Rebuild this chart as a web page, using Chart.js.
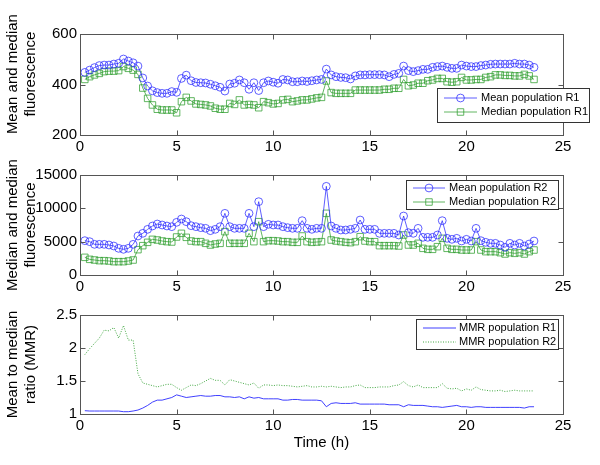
<!DOCTYPE html>
<html>
<head>
<meta charset="utf-8">
<script src="https://cdn.jsdelivr.net/npm/chart.js@4.4.1/dist/chart.umd.min.js"></script>
<style>
  body { margin: 0; background: #fff; }
  #wrap { position: relative; width: 600px; height: 465px; }
  canvas { position: absolute; left: 0; }
</style>
</head>
<body>
<div id="wrap">
  <canvas id="c1" width="600" height="155" style="top:0"></canvas>
  <canvas id="c2" width="600" height="140" style="top:155px"></canvas>
  <canvas id="c3" width="600" height="170" style="top:295px"></canvas>
</div>
<script>
// sampling times (h)
const hours = [
  0.25,0.5,0.75,1,1.25,1.5,1.75,2,2.25,2.5,2.75,3,
  3.25,3.5,3.75,4,4.25,4.5,4.75,5,5.25,5.5,5.75,6,
  6.25,6.5,6.75,7,7.25,7.5,7.75,8,8.25,8.5,8.75,9,
  9.25,9.5,9.75,10,10.25,10.5,10.75,11,11.25,11.5,11.75,12,
  12.25,12.5,12.75,13,13.25,13.5,13.75,14,14.25,14.5,14.75,15,
  15.25,15.5,15.75,16,16.25,16.5,16.75,17,17.25,17.5,17.75,18,
  18.25,18.5,18.75,19,19.25,19.5,19.75,20,20.25,20.5,20.75,21,
  21.25,21.5,21.75,22,22.25,22.5,22.75,23,23.25,23.5
];

const meanR1 = [
  448,457,467,475,477,477,481,484,501,493,486,473,
  426,394,375,368,365,365,372,369,424,437,415,408,
  407,406,401,395,389,374,402,405,418,407,381,407,
  376,407,414,409,405,420,418,411,411,414,412,415,
  418,420,461,438,431,428,427,422,434,438,438,439,
  439,439,438,431,440,444,473,455,451,455,460,460,
  468,471,473,468,464,464,477,473,471,471,475,477,
  480,481,481,481,481,484,481,481,477,468
];
const medianR1 = [
  420,431,438,444,451,453,453,455,471,464,457,440,
  386,345,319,302,299,299,299,288,332,349,335,323,
  321,319,315,306,302,302,325,321,339,319,321,319,
  308,332,328,323,325,339,341,332,335,339,339,343,
  347,349,414,368,365,365,365,365,378,378,378,378,
  378,378,381,381,385,385,420,395,398,405,405,415,
  418,424,424,411,409,411,428,418,418,420,420,428,
  431,438,438,436,436,434,434,440,434,420
];
const meanR2 = [
  5150,5000,4600,4600,4600,4500,4350,4000,3850,4000,4600,5850,
  6250,6850,7350,7650,7500,7350,7250,7900,8400,8000,7400,7250,
  7100,7000,6650,6850,7250,9250,7250,7000,7000,7000,9250,7250,
  11000,7250,7600,7500,7500,7250,7100,7000,7000,8150,7000,6850,
  7000,7000,13300,7350,7000,6750,6750,6850,7000,8250,6850,6850,
  6850,6250,6250,6250,6250,6000,8850,6350,6250,7000,5650,5650,
  5650,6000,8150,5500,5350,5500,5100,5350,5100,7000,5150,4900,
  4750,4750,4500,4150,4750,4500,4750,4350,4650,5100
];
const medianR2 = [
  2650,2350,2250,2150,2150,2100,2000,2000,2000,2100,2250,3800,
  4400,4900,5350,5250,5100,5000,4950,5700,6250,5650,5100,5000,
  5000,4750,4500,4650,4750,6500,4750,4750,4750,4750,6250,5000,
  8000,5000,5150,5150,5100,5000,5000,4900,4900,5850,5000,4900,
  4950,5000,9250,5250,5100,5000,4900,4850,5000,5750,5100,5000,
  5000,4400,4400,4400,4400,4350,6000,4500,4500,4750,4000,3850,
  3850,4250,5500,4000,3850,3850,3750,3750,3750,5000,3750,3500,
  3500,3500,3350,3150,3350,3250,3350,3150,3500,3750
];
const mmrR1 = [
  1.05,1.045,1.045,1.045,1.045,1.045,1.045,1.045,1.035,1.035,1.045,1.06,
  1.09,1.13,1.18,1.21,1.21,1.23,1.25,1.29,1.27,1.25,1.26,1.27,
  1.28,1.27,1.27,1.28,1.28,1.26,1.26,1.25,1.26,1.23,1.26,1.24,
  1.25,1.23,1.23,1.23,1.23,1.21,1.21,1.22,1.22,1.21,1.21,1.21,
  1.21,1.20,1.11,1.16,1.17,1.16,1.16,1.16,1.17,1.15,1.15,1.15,
  1.15,1.15,1.15,1.14,1.14,1.14,1.11,1.14,1.13,1.13,1.13,1.12,
  1.11,1.11,1.10,1.11,1.12,1.13,1.11,1.11,1.10,1.11,1.11,1.10,
  1.10,1.10,1.10,1.10,1.10,1.10,1.10,1.09,1.11,1.11
];
const mmrR2 = [
  1.90,1.99,2.07,2.15,2.27,2.26,2.31,2.15,2.34,2.12,2.12,1.61,
  1.47,1.45,1.43,1.41,1.43,1.45,1.45,1.40,1.36,1.40,1.44,1.43,
  1.46,1.50,1.54,1.51,1.51,1.44,1.52,1.50,1.48,1.46,1.44,1.47,
  1.39,1.44,1.44,1.43,1.44,1.43,1.43,1.42,1.41,1.42,1.43,1.41,
  1.41,1.42,1.41,1.42,1.41,1.40,1.41,1.41,1.43,1.44,1.40,1.40,
  1.40,1.41,1.41,1.41,1.43,1.44,1.49,1.43,1.41,1.44,1.40,1.40,
  1.40,1.40,1.46,1.39,1.38,1.39,1.35,1.38,1.36,1.41,1.37,1.36,
  1.35,1.35,1.36,1.34,1.35,1.36,1.35,1.35,1.35,1.35
];

const xTicks = [0, 5, 10, 15, 20, 25];
const yTicksTop = [200, 400, 600];
const yTicksMid = [0, 5000, 10000, 15000];
const yTicksBot = [1, 1.5, 2, 2.5];

const BLUE = '#2a2aff';
const GREEN = '#2e9e2e';
const AXIS = '#555';

Chart.defaults.font.family = '"Liberation Sans", Arial, sans-serif';
Chart.defaults.font.size = 15;
Chart.defaults.color = '#000';

const pts = vals => hours.map((h, i) => ({ x: h, y: vals[i] }));

// matlab-like box with inward ticks
const frame = {
  id: 'frame',
  afterDatasetsDraw(chart) {
    const { ctx, chartArea: a, scales } = chart;
    ctx.save();
    ctx.strokeStyle = AXIS;
    ctx.lineWidth = 1;
    const l = Math.round(a.left) + 0.5, t = Math.round(a.top) + 0.5;
    const r = Math.round(a.right) + 0.5, b = Math.round(a.bottom) + 0.5;
    ctx.strokeRect(l, t, r - l, b - t);
    ctx.beginPath();
    scales.x.ticks.forEach(tk => {
      const px = Math.round(scales.x.getPixelForValue(tk.value)) + 0.5;
      ctx.moveTo(px, b); ctx.lineTo(px, b - 5);
      ctx.moveTo(px, t); ctx.lineTo(px, t + 5);
    });
    scales.y.ticks.forEach(tk => {
      const py = Math.round(scales.y.getPixelForValue(tk.value)) + 0.5;
      ctx.moveTo(l, py); ctx.lineTo(l + 5, py);
      ctx.moveTo(r, py); ctx.lineTo(r - 5, py);
    });
    ctx.stroke();
    ctx.restore();
  }
};

// boxed legend drawn where matlab put it
const boxLegend = {
  id: 'boxLegend',
  afterDraw(chart, args, o) {
    const ctx = chart.ctx;
    ctx.save();
    ctx.fillStyle = '#fff';
    ctx.fillRect(o.x, o.y, o.w, o.h);
    ctx.strokeStyle = '#333';
    ctx.lineWidth = 1;
    ctx.strokeRect(o.x + 0.5, o.y + 0.5, o.w, o.h);
    ctx.font = o.size + 'px "Liberation Sans", Arial, sans-serif';
    ctx.textBaseline = 'middle';
    chart.data.datasets.forEach((ds, i) => {
      const y = o.rows[i];
      ctx.strokeStyle = ds.borderColor;
      ctx.lineWidth = ds.borderWidth;
      ctx.setLineDash(ds.borderDash || []);
      ctx.beginPath();
      ctx.moveTo(o.x1, y); ctx.lineTo(o.x2, y);
      ctx.stroke();
      ctx.setLineDash([]);
      const cx = (o.x1 + o.x2) / 2;
      if (ds.pointRadius) {
        ctx.lineWidth = ds.pointBorderWidth;
        ctx.beginPath();
        if (ds.pointStyle === 'rect') {
          const s = ds.pointRadius * Math.SQRT1_2;
          ctx.rect(cx - s, y - s, 2 * s, 2 * s);
        } else {
          ctx.arc(cx, y, ds.pointRadius, 0, Math.PI * 2);
        }
        ctx.stroke();
      }
      ctx.fillStyle = '#000';
      ctx.fillText(ds.label, o.tx, y);
    });
    ctx.restore();
  }
};

function markerSet(label, vals, color, style, radius) {
  return {
    label, data: pts(vals),
    borderColor: color, borderWidth: 0.75,
    pointStyle: style, pointRadius: radius, pointBorderWidth: 0.75,
    pointBorderColor: color, pointBackgroundColor: 'rgba(0,0,0,0)',
    fill: false, tension: 0
  };
}

function makeChart(id, datasets, yTicks, yTitle, legend, withXTitle, topPad) {
  const fixTicks = list => scale => { scale.ticks = list.map(v => ({ value: v })); };
  const noGrid = { display: false, drawTicks: false, tickLength: 0 };
  return new Chart(document.getElementById(id), {
    type: 'line',
    data: { datasets },
    options: {
      responsive: false,
      animation: false,
      devicePixelRatio: 1,
      layout: { padding: { top: topPad, right: 37, left: 0, bottom: 0 } },
      plugins: { legend: { display: false }, tooltip: { enabled: false }, boxLegend: legend },
      scales: {
        x: {
          type: 'linear', min: 0, max: 25,
          afterBuildTicks: fixTicks(xTicks),
          afterFit: s => { s.height = withXTitle ? 51 : 20; },
          grid: noGrid, border: { display: false },
          ticks: { padding: 3, maxRotation: 0, callback: v => String(v) },
          title: withXTitle
            ? { display: true, text: 'Time (h)', font: { size: 15 }, padding: { top: 0, bottom: 13 } }
            : { display: false }
        },
        y: {
          min: yTicks[0], max: yTicks[yTicks.length - 1],
          afterBuildTicks: fixTicks(yTicks),
          afterFit: s => { s.width = 80; },
          grid: noGrid, border: { display: false },
          ticks: { padding: 3, callback: v => String(v) },
          title: { display: true, text: yTitle, font: { size: 15 }, padding: { top: 4, bottom: 0 } }
        }
      }
    },
    plugins: [frame, boxLegend]
  });
}

makeChart('c1', [
  markerSet('Mean population R1', meanR1, BLUE, 'circle', 3.9),
  markerSet('Median population R1', medianR1, GREEN, 'rect', 4.6)
], yTicksTop, ['     Mean and median', '     fluorescence'],
  { x: 437, y: 88, w: 152, h: 34, rows: [98, 112], x1: 444, x2: 477, tx: 481, size: 11 },
  false, 34);

makeChart('c2', [
  markerSet('Mean population R2', meanR2, BLUE, 'circle', 3.9),
  markerSet('Median population R2', medianR2, GREEN, 'rect', 4.6)
], yTicksMid, ['Median and median', 'fluorescence'],
  { x: 406, y: 25, w: 152, h: 29, rows: [33, 47], x1: 413, x2: 445, tx: 449, size: 11 },
  false, 20);

makeChart('c3', [
  { label: 'MMR population R1', data: pts(mmrR1), borderColor: BLUE, borderWidth: 0.9,
    pointRadius: 0, fill: false, tension: 0 },
  { label: 'MMR population R2', data: pts(mmrR2), borderColor: GREEN, borderWidth: 0.9,
    borderDash: [1, 1.5], pointRadius: 0, fill: false, tension: 0 }
], yTicksBot, ['Mean to median', 'ratio (MMR)'],
  { x: 416, y: 24, w: 142, h: 30, rows: [33, 47], x1: 423, x2: 456, tx: 459, size: 11 },
  true, 20);
</script>
</body>
</html>
